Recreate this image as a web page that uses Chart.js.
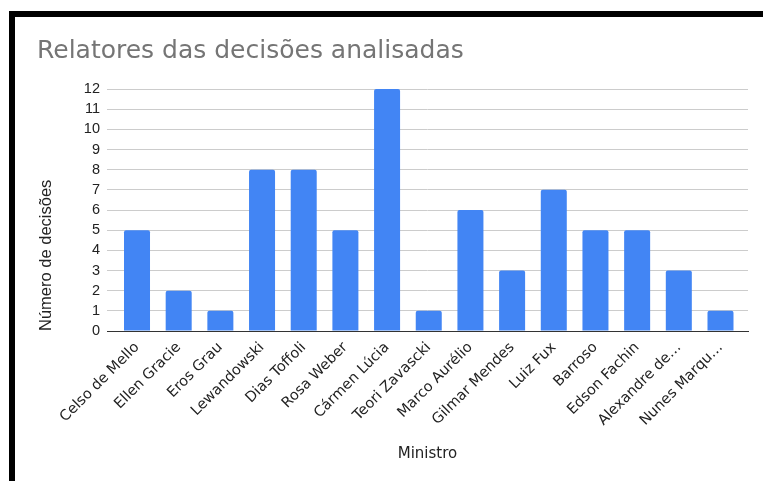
<!DOCTYPE html>
<html>
<head>
<meta charset="utf-8">
<title>Relatores das decisões analisadas</title>
<script src="https://cdn.jsdelivr.net/npm/chart.js@4"></script>
<style>
  html, body { margin: 0; padding: 0; background: #fff; }
  #wrap { position: relative; width: 763px; height: 481px; overflow: hidden; }
  #frame {
    position: absolute; left: 9px; top: 11px; right: 0; bottom: 0;
    border-top: 6px solid #000; border-left: 6px solid #000;
    pointer-events: none;
  }
</style>
</head>
<body>
<div id="wrap">
  <canvas id="chart" width="763" height="481"></canvas>
  <div id="frame"></div>
</div>
<script>
const ministros = [
  'Celso de Mello', 'Ellen Gracie', 'Eros Grau', 'Lewandowski', 'Dias Toffoli',
  'Rosa Weber', 'Cármen Lúcia', 'Teori Zavascki', 'Marco Aurélio', 'Gilmar Mendes',
  'Luiz Fux', 'Barroso', 'Edson Fachin', 'Alexandre de…', 'Nunes Marqu…',
];
const decisoes = [5, 2, 1, 8, 8, 5, 12, 1, 6, 3, 7, 5, 5, 3, 1];
const yTicks = [0, 1, 2, 3, 4, 5, 6, 7, 8, 9, 10, 11, 12];

// linear x axis so the gridlines can run a little past the outer bars
const points = decisoes.map((v, i) => ({ x: i, y: v }));

const ctx = document.getElementById('chart').getContext('2d');
new Chart(ctx, {
  type: 'bar',
  data: {
    datasets: [{
      data: points,
      backgroundColor: '#4285f4',
      borderRadius: 2,
      barPercentage: 0.78,
      categoryPercentage: 0.8,
    }],
  },
  options: {
    responsive: false,
    animation: false,
    layout: { padding: { left: 37, right: 15, top: 0, bottom: 0 } },
    plugins: {
      legend: { display: false },
      tooltip: { enabled: false },
      title: {
        display: true,
        text: 'Relatores das decisões analisadas',
        align: 'start',
        color: '#757575',
        font: { family: 'DejaVu Sans', size: 25, weight: 'normal' },
        padding: { top: 36, bottom: 23 },
      },
    },
    scales: {
      x: {
        type: 'linear',
        offset: false,
        min: -0.72,
        max: 14.66,
        grid: { display: false },
        border: { display: true, color: '#333', width: 1 },
        ticks: {
          stepSize: 1,
          includeBounds: false,
          autoSkip: false,
          minRotation: 45,
          maxRotation: 45,
          padding: 0,
          color: '#222',
          font: { family: 'DejaVu Sans', size: 14.5 },
          callback: (v) => ministros[v] ?? '',
        },
        title: {
          display: true,
          text: 'Ministro',
          color: '#222',
          font: { family: 'DejaVu Sans', size: 15 },
          padding: { top: 0, bottom: 18 },
        },
        afterFit: (s) => { s.height = 150; },
      },
      y: {
        min: 0,
        max: 12,
        grid: { color: '#cccccc', drawTicks: false },
        border: { display: false },
        afterBuildTicks: (s) => { s.ticks = yTicks.map((v) => ({ value: v })); },
        ticks: {
          autoSkip: false,
          padding: 7,
          color: '#222',
          font: { family: 'Liberation Sans', size: 14.5 },
        },
        title: {
          display: true,
          text: 'Número de decisões',
          align: 'start',
          color: '#222',
          font: { family: 'Liberation Sans', size: 16.5 },
          padding: { top: 0, bottom: 0 },
        },
        afterFit: (s) => { s.width = 70; },
      },
    },
  },
});
</script>
</body>
</html>
